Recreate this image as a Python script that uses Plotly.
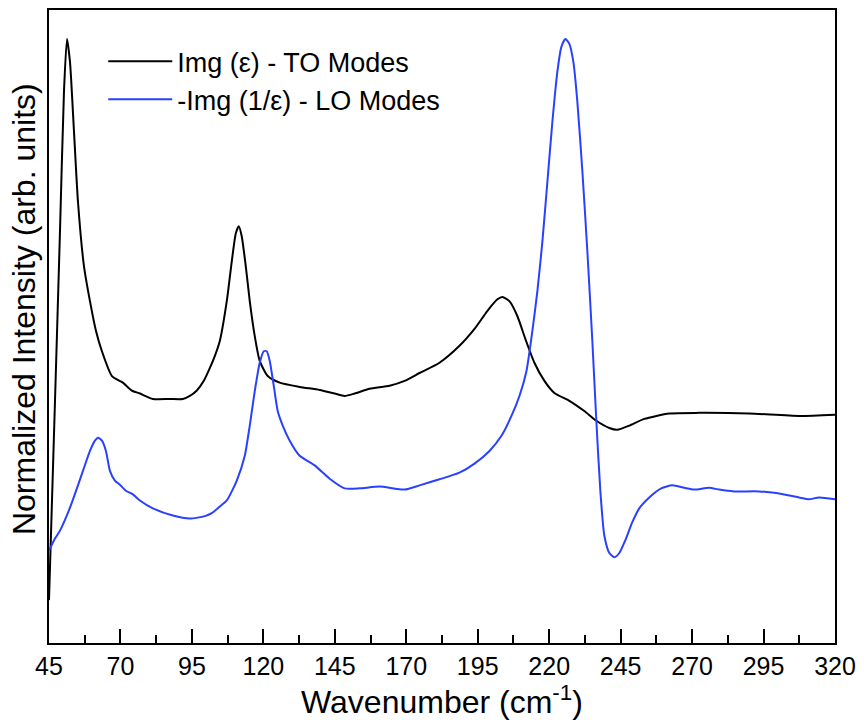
import plotly.graph_objects as go

# Img(eps) - TO modes
to_wavenumber = [45.00, 47.10, 48.84, 50.24, 51.29, 52.34, 53.74, 55.13, 57.23, 59.33, 61.42, 63.52,
                 67.02, 70.86, 74.00, 76.80, 81.34, 87.28, 91.83, 94.27, 96.72, 99.16, 101.26, 103.01,
                 104.76, 107.20, 108.95, 110.35, 111.40, 112.44, 113.84, 115.24, 116.99, 118.73, 121.53,
                 125.72, 132.71, 139.70, 144.94, 148.44, 151.93, 157.17, 164.16, 169.40, 174.64, 181.63,
                 188.62, 193.87, 198.41, 201.90, 203.65, 206.09, 208.89, 211.69, 214.83, 218.33, 221.82,
                 227.06, 232.30, 236.50, 241.04, 243.84, 248.03, 253.27, 262.01, 272.49, 289.96, 307.43,
                 320.00]
to_intensity = [0.071, 0.401, 0.681, 0.913, 1.000, 0.962, 0.847, 0.731, 0.624, 0.566, 0.517, 0.483,
                0.442, 0.431, 0.418, 0.413, 0.404, 0.404, 0.404, 0.409, 0.418, 0.434, 0.455, 0.475,
                0.500, 0.566, 0.632, 0.678, 0.690, 0.673, 0.624, 0.566, 0.508, 0.467, 0.442,
                0.431, 0.424, 0.419, 0.413, 0.409, 0.413, 0.421, 0.426, 0.434, 0.447, 0.464,
                0.492, 0.520, 0.550, 0.569, 0.573, 0.566, 0.541, 0.503, 0.464, 0.434, 0.414,
                0.401, 0.384, 0.368, 0.356, 0.353, 0.360, 0.371, 0.380, 0.381, 0.380, 0.376,
                0.378]

# -Img(1/eps) - LO modes
lo_wavenumber = [45.00, 47.10, 48.84, 52.34, 55.13, 56.88, 59.33, 61.07, 62.12, 63.52, 64.92, 66.32,
                 68.06, 69.81, 71.91, 74.35, 76.80, 81.34, 88.33, 94.27, 99.51, 101.96, 104.76, 107.20,
                 110.70, 113.49, 115.24, 116.99, 118.73, 120.13, 121.18, 122.23, 123.63, 125.02, 126.77,
                 129.22, 132.71, 137.95, 143.20, 148.44, 153.68, 160.67, 169.40, 174.64, 181.63, 188.62,
                 193.87, 199.11, 203.30, 206.80, 209.59, 212.04, 214.13, 215.88, 217.63, 219.38, 221.12,
                 222.87, 224.27, 225.67, 227.06, 228.46, 229.86, 231.61, 233.35, 235.10, 236.50, 237.90,
                 239.29, 241.04, 242.79, 244.54, 246.63, 249.08, 251.52, 255.02, 259.21, 263.05, 267.25,
                 270.74, 275.98, 279.48, 284.72, 293.46, 302.19, 307.43, 310.92, 314.42, 320.00]
lo_intensity = [0.153, 0.173, 0.186, 0.224, 0.261, 0.285, 0.318, 0.335, 0.340, 0.335, 0.318, 0.285,
                0.269, 0.262, 0.252, 0.246, 0.236, 0.223, 0.211, 0.206, 0.210, 0.215, 0.226, 0.236,
                0.269, 0.310, 0.360, 0.417, 0.464, 0.483, 0.483, 0.467, 0.426, 0.384, 0.360,
                0.335, 0.310, 0.294, 0.272, 0.256, 0.256, 0.259, 0.254, 0.261, 0.271, 0.282,
                0.297, 0.318, 0.343, 0.376, 0.409, 0.450, 0.517, 0.583, 0.665, 0.764, 0.863,
                0.946, 0.987, 1.000, 0.992, 0.962, 0.896, 0.781, 0.649, 0.500, 0.368, 0.252,
                0.178, 0.149, 0.142, 0.149, 0.170, 0.200, 0.223, 0.241, 0.256, 0.261, 0.257,
                0.254, 0.257, 0.254, 0.251, 0.251, 0.246, 0.241, 0.238, 0.241, 0.238]

x_ticks = [45, 70, 95, 120, 145, 170, 195, 220, 245, 270, 295, 320]

FONT = "Liberation Sans, Arial, sans-serif"

fig = go.Figure()
fig.add_trace(go.Scatter(x=to_wavenumber, y=to_intensity, mode="lines",
                         line=dict(color="black", width=2, shape="spline", smoothing=0.6),
                         name="Img (\u03b5) - TO Modes"))
fig.add_trace(go.Scatter(x=lo_wavenumber, y=lo_intensity, mode="lines",
                         line=dict(color="#2a40ff", width=2, shape="spline", smoothing=0.6),
                         name="-Img (1/\u03b5) - LO Modes"))

fig.update_layout(
    width=864, height=720,
    margin=dict(l=49, r=28, t=8, b=77),
    paper_bgcolor="white", plot_bgcolor="white",
    font=dict(family=FONT, color="black", size=24),
    showlegend=True,
    legend=dict(x=0.069, y=0.957, xanchor="left", yanchor="top",
                bgcolor="rgba(0,0,0,0)", font=dict(size=27, family=FONT),
                itemwidth=64, tracegroupgap=0),
    xaxis=dict(range=[45, 320], tickvals=x_ticks, ticktext=[str(t) for t in x_ticks],
               ticks="inside", ticklen=14, tickwidth=2, tickcolor="black",
               minor=dict(tickvals=[t + 12.5 for t in x_ticks[:-1]], ticks="inside",
                          ticklen=8, tickwidth=2, tickcolor="black"),
               showline=True, linecolor="black", linewidth=2, mirror=True,
               showgrid=False, zeroline=False,
               tickfont=dict(size=25, family=FONT),
               title=dict(text="Wavenumber (cm<sup>-1</sup>)", font=dict(size=32, family=FONT),
                          standoff=0)),
    yaxis=dict(range=[0, 1.048], showticklabels=False, ticks="",
               showline=True, linecolor="black", linewidth=2, mirror=True,
               showgrid=False, zeroline=False),
    annotations=[dict(text="Normalized Intensity (arb. units)", textangle=-90,
                      xref="paper", yref="paper", x=-0.031, y=0.527,
                      xanchor="center", yanchor="middle", showarrow=False,
                      font=dict(size=32, family=FONT, color="black"))],
)

fig.write_html("out.html")
